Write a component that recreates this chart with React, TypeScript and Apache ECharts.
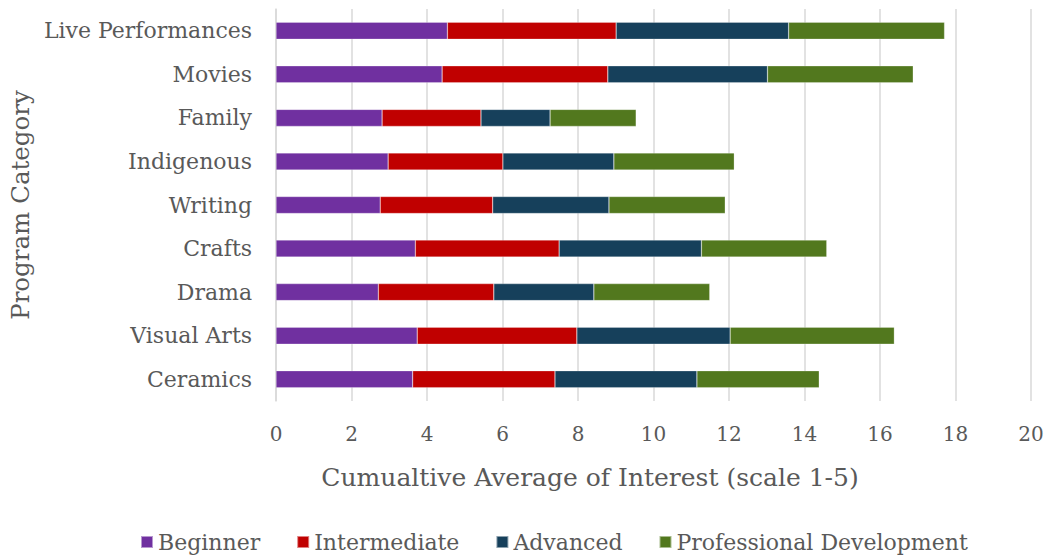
import React, { useEffect, useRef } from "react";
import * as echarts from "echarts";

const categories = [
  "Live Performances",
  "Movies",
  "Family",
  "Indigenous",
  "Writing",
  "Crafts",
  "Drama",
  "Visual Arts",
  "Ceramics",
];
const beginner = [4.54, 4.4, 2.81, 2.97, 2.76, 3.69, 2.71, 3.74, 3.62];
const intermediate = [4.47, 4.39, 2.62, 3.04, 2.98, 3.81, 3.06, 4.23, 3.77];
const advanced = [4.57, 4.23, 1.83, 2.94, 3.08, 3.77, 2.65, 4.06, 3.76];
const professional = [4.13, 3.86, 2.28, 3.19, 3.08, 3.32, 3.07, 4.35, 3.24];

const seriesNames = ["Beginner", "Intermediate", "Advanced", "Professional Development"];
const seriesData = [beginner, intermediate, advanced, professional];
const colors = ["#7030A0", "#C00000", "#16405B", "#52781E"];

const xTitle = "Cumualtive Average of Interest (scale 1-5)";
const yTitle = "Program Category";

const FONT = "DejaVu Serif";
const TEXT = "#595959";

export default function App() {
  const ref = useRef<HTMLDivElement>(null);
  useEffect(() => {
    if (!ref.current) return;
    const chart = echarts.init(ref.current, undefined, { renderer: "svg" });
    chart.setOption({
      animation: false,
      textStyle: { fontFamily: FONT, color: TEXT },
      grid: { left: 276, right: 20, top: 9, bottom: 155, containLabel: false },
      legend: {
        top: 529,
        left: 140,
        padding: 0,
        icon: "rect",
        itemWidth: 12,
        itemHeight: 12,
        itemGap: 36,
        textStyle: { fontFamily: FONT, fontSize: 22, color: TEXT, lineHeight: 26 },
        data: seriesNames,
      },
      graphic: [
        {
          type: "text",
          x: 590,
          y: 477,
          style: {
            text: xTitle,
            fontFamily: FONT,
            fontSize: 25,
            fill: TEXT,
            align: "center",
            verticalAlign: "middle",
          },
        },
      ],
      xAxis: {
        type: "value",
        min: 0,
        max: 20,
        interval: 2,
        axisLine: { show: false },
        axisTick: { show: false },
        axisLabel: { fontFamily: FONT, fontSize: 20, color: TEXT, margin: 23 },
        splitLine: { show: true, lineStyle: { color: "#d9d9d9", width: 1.5 } },
      },
      yAxis: {
        type: "category",
        data: categories,
        inverse: true,
        name: yTitle,
        nameLocation: "middle",
        nameGap: 240,
        nameTextStyle: { fontFamily: FONT, fontSize: 24.5, color: TEXT },
        axisLine: { show: true, lineStyle: { color: "#d9d9d9", width: 1.5 } },
        axisTick: { show: false },
        axisLabel: { fontFamily: FONT, fontSize: 22, color: TEXT, margin: 24 },
      },
      series: seriesNames.map((name, i) => ({
        name,
        type: "bar",
        stack: "total",
        data: seriesData[i],
        barWidth: 17,
        itemStyle: { color: colors[i], borderColor: "rgba(255,255,255,0.5)", borderWidth: 0.5 },
      })),
    });
    return () => chart.dispose();
  }, []);
  return (
    <div
      ref={ref}
      style={{ position: "fixed", left: 0, top: 0, width: 1051, height: 556, background: "#fff" }}
    />
  );
}
